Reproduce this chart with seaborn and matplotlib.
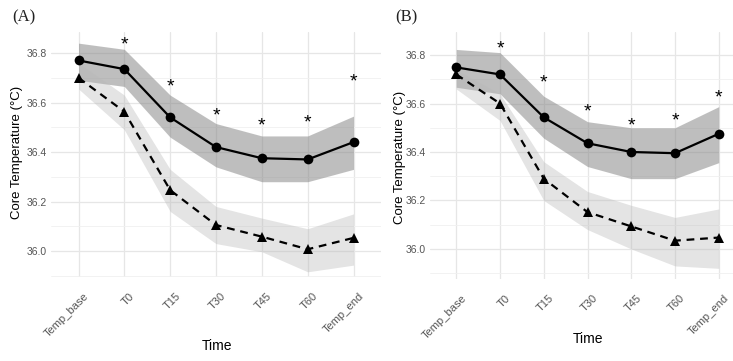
import numpy as np
import pandas as pd
import matplotlib
matplotlib.use("Agg")
import matplotlib.pyplot as plt
import matplotlib.transforms as mtransforms
import seaborn as sns

# Time points on the x axis
times = ["Temp_base", "T0", "T15", "T30", "T45", "T60", "Temp_end"]

# Panel A - group 1 (solid line, circles)
a_solid = [36.77, 36.735, 36.54, 36.42, 36.375, 36.37, 36.44]
a_solid_lo = [36.69, 36.665, 36.46, 36.34, 36.28, 36.28, 36.33]
a_solid_hi = [36.84, 36.815, 36.63, 36.515, 36.465, 36.465, 36.545]
# Panel A - group 2 (dashed line, triangles)
a_dash = [36.70, 36.563, 36.246, 36.105, 36.058, 36.007, 36.053]
a_dash_lo = [36.655, 36.49, 36.16, 36.03, 35.997, 35.916, 35.943]
a_dash_hi = [36.76, 36.63, 36.33, 36.18, 36.133, 36.09, 36.15]
# Panel A - significance stars (height of the asterisk)
a_star = [np.nan, 36.85, 36.68, 36.56, 36.52, 36.535, 36.70]

# Panel B - group 1 (solid line, circles)
b_solid = [36.749, 36.72, 36.543, 36.436, 36.40, 36.395, 36.475]
b_solid_lo = [36.667, 36.64, 36.457, 36.34, 36.29, 36.29, 36.356]
b_solid_hi = [36.823, 36.81, 36.63, 36.525, 36.50, 36.50, 36.587]
# Panel B - group 2 (dashed line, triangles)
b_dash = [36.72, 36.60, 36.29, 36.152, 36.093, 36.034, 36.047]
b_dash_lo = [36.66, 36.53, 36.20, 36.08, 36.0, 35.93, 35.92]
b_dash_hi = [36.74, 36.64, 36.36, 36.237, 36.18, 36.13, 36.165]
b_star = [np.nan, 36.84, 36.70, 36.58, 36.525, 36.545, 36.64]

panels = [
    ("(A)", a_solid, a_solid_lo, a_solid_hi, a_dash, a_dash_lo, a_dash_hi, a_star),
    ("(B)", b_solid, b_solid_lo, b_solid_hi, b_dash, b_dash_lo, b_dash_hi, b_star),
]

sns.set_theme(style="whitegrid")
plt.rcParams['font.family'] = ['Liberation Sans', 'DejaVu Sans']

W, H = 733, 361
fig = plt.figure(figsize=(W / 100, H / 100), dpi=100)

# axes boxes in pixels: left, top, right, bottom ; plus y limits
boxes = [(51, 32, 381, 277, (35.895, 36.885)),
         (430, 32, 745, 279, (35.876, 36.895))]
# pixel centres of: panel tag, x label, y label
tag_pos = [(12, 17), (395, 17)]
xlab_pos = [(217, 346), (588, 339)]
ylab_pos = [(17, 152), (400, 157)]

for i, (tag, s, s_lo, s_hi, d, d_lo, d_hi, star) in enumerate(panels):
    l, t, r, b, ylim = boxes[i]
    ax = fig.add_axes([l / W, 1 - b / H, (r - l) / W, (b - t) / H])

    df = pd.DataFrame({
        "Time": times * 2,
        "Temp": s + d,
        "Group": ["Group 1"] * len(times) + ["Group 2"] * len(times),
    })
    x = np.arange(len(times))

    # confidence ribbons
    ax.fill_between(x, s_lo, s_hi, color="#7f7f7f", alpha=0.5, lw=0, zorder=1)
    ax.fill_between(x, d_lo, d_hi, color="#b8b8b8", alpha=0.38, lw=0, zorder=1)

    sns.lineplot(data=df, x="Time", y="Temp", style="Group",
                 markers={"Group 1": "o", "Group 2": "^"},
                 dashes={"Group 1": "", "Group 2": (3.5, 2.6)},
                 color="black", lw=1.6, markersize=7, markeredgewidth=0,
                 legend=False, sort=False, ax=ax, zorder=3)

    # asterisks; glyph sits high in its box, so nudge it down a few pixels
    star_shift = mtransforms.ScaledTranslation(0, -4 / 100, fig.dpi_scale_trans)
    for xi, yi in zip(x, star):
        if not np.isnan(yi):
            ax.text(xi, yi, "*", ha="center", va="center", fontsize=14,
                    color="black", zorder=4,
                    transform=ax.transData + star_shift)

    ax.set_xlim(-0.6, 6.6)
    ax.set_ylim(*ylim)
    ax.set_yticks([36.0, 36.2, 36.4, 36.6, 36.8])
    ax.set_yticks([35.9, 36.1, 36.3, 36.5, 36.7], minor=True)
    ax.set_xticks(x)
    ax.tick_params(axis="both", labelsize=7.5, labelcolor="#555555",
                   length=0, pad=3)
    ax.tick_params(axis="x", labelsize=8)
    ax.set_xticklabels(times, rotation=45, ha="right", va="top",
                       rotation_mode="anchor")
    # push the rotated labels a bit right and down (after tick_params)
    lab_shift = mtransforms.ScaledTranslation(5 / 100, -10 / 100, fig.dpi_scale_trans)
    for lab in ax.get_xticklabels():
        lab.set_transform(lab.get_transform() + lab_shift)
    ax.grid(True, which="major", color="#e6e6e6", lw=0.9)
    ax.grid(True, which="minor", axis="y", color="#f0f0f0", lw=0.6)
    ax.set_facecolor("white")
    for sp in ax.spines.values():
        sp.set_visible(False)

    ax.set_xlabel("Time", fontsize=10, color="black", va="center")
    ax.set_ylabel("Core Temperature (°C)", fontsize=9.5, color="black",
                  va="center")
    ax.xaxis.set_label_coords((xlab_pos[i][0] - l) / (r - l),
                              (b - xlab_pos[i][1]) / (b - t))
    ax.yaxis.set_label_coords((ylab_pos[i][0] - l) / (r - l),
                              (b - ylab_pos[i][1]) / (b - t))

    fig.text(tag_pos[i][0] / W, 1 - tag_pos[i][1] / H, tag, fontsize=12,
             va="center", family="Liberation Serif", color="#222222")

fig.savefig("out.png", dpi=100, facecolor="white")
